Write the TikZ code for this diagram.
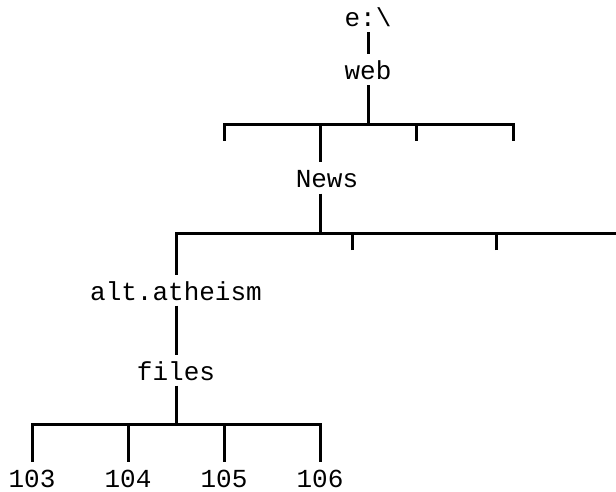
\documentclass[tikz,border=0pt]{standalone}
\usepackage{fontspec}
\setmonofont{Liberation Mono}
\begin{document}
\begin{tikzpicture}[x=1pt,y=-1pt,line width=3pt,
  ordner/.style={font=\ttfamily\fontsize{26}{30}\selectfont,inner sep=0pt,text height=24pt,text depth=4pt,anchor=base}]
\useasboundingbox (0,0) rectangle (616,492);
% Knoten
\node[ordner] (laufwerk) at (368,27) {e:\textbackslash};
\node[ordner] (web) at (368,80) {web};
\node[ordner] (news) at (327,188) {News};
\node[ordner] (atheism) at (176,300) {alt.atheism};
\node[ordner] (files) at (176,380) {files};
\node[ordner] (datei103) at (32,487) {103};
\node[ordner] (datei104) at (128,487) {104};
\node[ordner] (datei105) at (224,487) {105};
\node[ordner] (datei106) at (320,487) {106};

% Koordinaten
\coordinate (webbar) at (368,125);
\coordinate (webl) at (224,141);
\coordinate (webm) at (416,141);
\coordinate (webr) at (513,141);
\coordinate (newsx) at (320,125);
\coordinate (newsbar) at (320,233);
\coordinate (newsa) at (352,250);
\coordinate (newsb) at (496,250);
\coordinate (newsr) at (616,233);
\coordinate (filesbar) at (176,424);

% Linien
\draw (laufwerk.south) -- (web.north);
\draw (web.south) -- (webbar);
\draw (webl) |- (webbar) -| (webr);
\draw (webm) -- (webm |- webbar);
\draw (newsx) -- (newsx |- news.north);
\draw (newsx |- news.south) -- (newsbar);
\draw (atheism.north) |- (newsr);
\draw (newsa) -- (newsa |- newsbar);
\draw (newsb) -- (newsb |- newsbar);
\draw (atheism.south) -- (files.north);
\draw (files.south) -- (filesbar);
\draw (datei103.north) |- (filesbar) -| (datei106.north);
\draw (datei104.north) -- (datei104.north |- filesbar);
\draw (datei105.north) -- (datei105.north |- filesbar);
\end{tikzpicture}
\end{document}
